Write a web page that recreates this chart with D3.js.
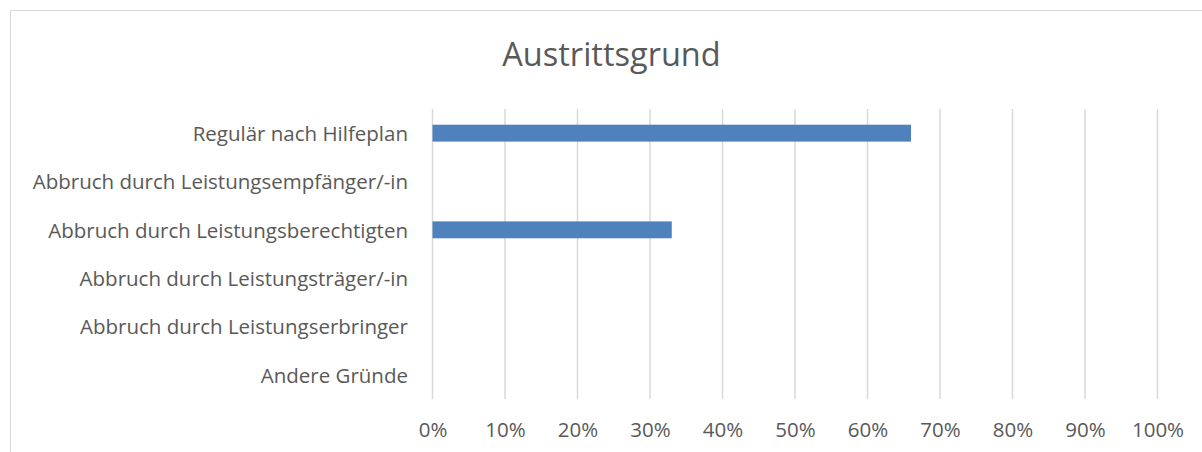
<!DOCTYPE html>
<html><head><meta charset="utf-8">
<script src="https://cdn.jsdelivr.net/npm/d3@7"></script>
<style>body{margin:0;background:#fff}svg{display:block}</style>
</head><body>
<svg id="c" width="1202" height="452"></svg>
<script>
const categories = ["Regulär nach Hilfeplan","Abbruch durch Leistungsempfänger/-in","Abbruch durch Leistungsberechtigten","Abbruch durch Leistungsträger/-in","Abbruch durch Leistungserbringer","Andere Gründe"];
const values = [0.66, 0, 0.33, 0, 0, 0];
const ticks = [0,0.1,0.2,0.3,0.4,0.5,0.6,0.7,0.8,0.9,1.0];
const title = "Austrittsgrund";

const svg = d3.select("#c");
const font = "'Open Sans', sans-serif";
svg.append("rect").attr("x",10.5).attr("y",10.5).attr("width",1300).attr("height",600)
  .attr("fill","#fff").attr("stroke","#d9d9d9").attr("stroke-width",1);

const x = d3.scaleLinear().domain([0,1]).range([432.5,1157.5]);
const y = d3.scaleBand().domain(categories).range([109,399]).paddingInner(0.65).paddingOuter(0.325);

svg.append("text").attr("x",611.5).attr("y",65.5).attr("text-anchor","middle")
  .attr("font-family",font).attr("font-size",32.5).attr("fill","#595959").text(title);

const g = svg.append("g");
g.selectAll("line.grid").data(ticks).join("line").attr("class","grid")
  .attr("x1",d=>x(d)).attr("x2",d=>x(d)).attr("y1",109).attr("y2",399)
  .attr("stroke","#d9d9d9").attr("stroke-width",1.5);

g.selectAll("rect.bar").data(values).join("rect").attr("class","bar")
  .attr("x",x(0)).attr("y",(d,i)=>y(categories[i]))
  .attr("width",d=>x(d)-x(0)).attr("height",y.bandwidth()).attr("fill","#4f81bd");

const xa = svg.append("g").attr("transform","translate(0,399)")
  .call(d3.axisBottom(x).tickValues(ticks).tickFormat(d3.format(".0%")).tickSize(0).tickPadding(23.5));
xa.select(".domain").remove();
xa.selectAll("text").attr("font-family",font).attr("font-size",20.5).attr("fill","#595959");

const ya = svg.append("g").attr("transform","translate(408,0)")
  .call(d3.axisLeft(y).tickSize(0).tickPadding(0));
ya.select(".domain").remove();
ya.selectAll("text").attr("font-family",font).attr("font-size",20.5).attr("fill","#595959").attr("dy","0.38em");
</script>
</body></html>
